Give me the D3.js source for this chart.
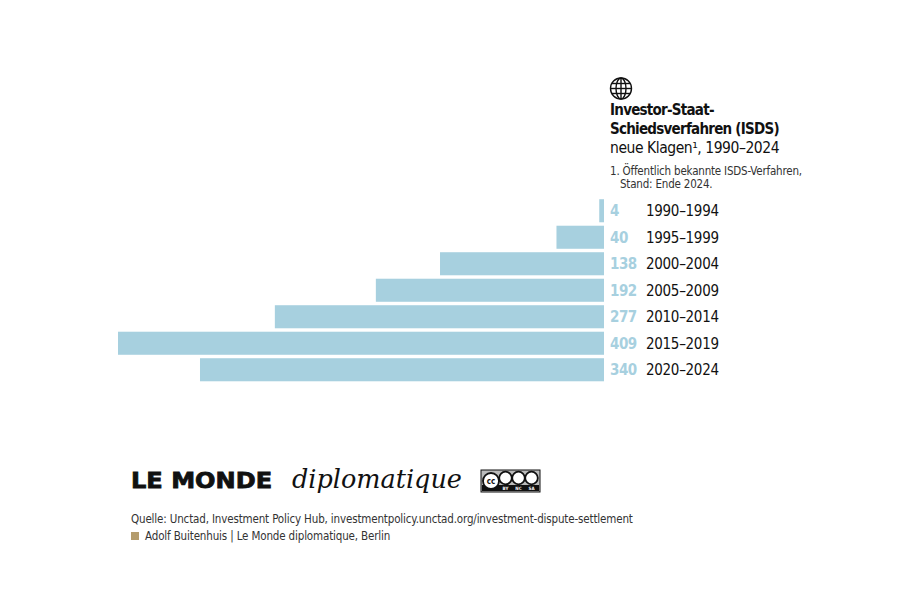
<!DOCTYPE html>
<html>
<head>
<meta charset="utf-8">
<script src="https://cdn.jsdelivr.net/npm/d3@7"></script>
<style>
  body { margin: 0; background: #fff; }
  text { font-family: "DejaVu Sans Condensed", "DejaVu Sans", sans-serif; }
</style>
</head>
<body>
<div id="chart"></div>
<script>
// data
var periods = ["1990–1994", "1995–1999", "2000–2004", "2005–2009", "2010–2014", "2015–2019", "2020–2024"];
var cases = [4, 40, 138, 192, 277, 409, 340];

var W = 923, H = 602;
var barRight = 604;

var svg = d3.select("#chart")
  .append("svg")
  .attr("width", W)
  .attr("height", H);

// bars grow leftwards from barRight
var x = d3.scaleLinear()
  .domain([0, 409])
  .range([0, 486]);

var y = d3.scaleBand()
  .domain(periods)
  .range([197.5, 383])
  .paddingInner(0.13)
  .paddingOuter(0.065);

var rows = svg.append("g")
  .selectAll("g")
  .data(periods)
  .enter()
  .append("g");

rows.append("rect")
  .attr("x", function (d, i) { return barRight - x(cases[i]); })
  .attr("y", function (d) { return y(d); })
  .attr("width", function (d, i) { return x(cases[i]); })
  .attr("height", y.bandwidth())
  .attr("fill", "#a7d0df");

rows.append("text")
  .attr("x", 610)
  .attr("y", function (d) { return y(d) + y.bandwidth() / 2 + 5.5; })
  .attr("font-size", 15)
  .attr("font-weight", "bold")
  .attr("letter-spacing", -0.5)
  .attr("fill", "#a7d0df")
  .text(function (d, i) { return cases[i]; });

rows.append("text")
  .attr("x", 646)
  .attr("y", function (d) { return y(d) + y.bandwidth() / 2 + 5.5; })
  .attr("font-size", 15)
  .attr("letter-spacing", -0.3)
  .attr("fill", "#111")
  .text(function (d) { return d; });

// globe icon
var globe = svg.append("g")
  .attr("transform", "translate(621,88.5)")
  .attr("fill", "none")
  .attr("stroke", "#111")
  .attr("stroke-width", 1.4);
globe.append("circle").attr("r", 10.5);
globe.append("ellipse").attr("rx", 5).attr("ry", 10.5);
globe.append("line").attr("x1", 0).attr("x2", 0).attr("y1", -10.5).attr("y2", 10.5);
globe.append("line").attr("x1", -10.5).attr("x2", 10.5).attr("y1", 0).attr("y2", 0);
globe.append("line").attr("x1", -9.2).attr("x2", 9.2).attr("y1", -5).attr("y2", -5);
globe.append("line").attr("x1", -9.2).attr("x2", 9.2).attr("y1", 5).attr("y2", 5);

// title block
var title = svg.append("g").attr("fill", "#111");
title.append("text").attr("x", 610).attr("y", 114.5)
  .attr("font-size", 15).attr("font-weight", "bold").attr("letter-spacing", -0.75).text("Investor-Staat-");
title.append("text").attr("x", 610).attr("y", 133.5)
  .attr("font-size", 15).attr("font-weight", "bold").attr("letter-spacing", -0.75).text("Schiedsverfahren (ISDS)");
title.append("text").attr("x", 610).attr("y", 153)
  .attr("font-size", 15.5).attr("letter-spacing", -0.45).text("neue Klagen¹, 1990–2024");
title.append("text").attr("x", 610).attr("y", 175)
  .attr("font-size", 11.5).attr("letter-spacing", -0.2).attr("fill", "#333").text("1. Öffentlich bekannte ISDS-Verfahren,");
title.append("text").attr("x", 620).attr("y", 188)
  .attr("font-size", 11.5).attr("letter-spacing", -0.2).attr("fill", "#333").text("Stand: Ende 2024.");

// masthead
svg.append("text")
  .attr("transform", "translate(131,488) scale(1.12,1)")
  .style("font-family", "'DejaVu Sans', sans-serif")
  .attr("font-size", 21.5).attr("font-weight", "bold")
  .attr("fill", "#111")
  .attr("stroke", "#111").attr("stroke-width", 0.8)
  .text("LE MONDE");
svg.append("text")
  .attr("x", 292).attr("y", 488)
  .style("font-family", "'DejaVu Serif', serif")
  .attr("font-size", 25.5).attr("font-style", "italic")
  .attr("fill", "#111")
  .text("diplomatique");

// CC BY-NC-SA badge
var cc = svg.append("g").attr("transform", "translate(481,470)");
cc.append("rect").attr("width", 59).attr("height", 22).attr("fill", "#bbb").attr("stroke", "#111").attr("stroke-width", 1);
cc.append("rect").attr("x", 1).attr("y", 15).attr("width", 57).attr("height", 6).attr("fill", "#111");
[10, 24.5, 37.5, 50.5].forEach(function (cx, i) {
  cc.append("circle").attr("cx", cx).attr("cy", i === 0 ? 11 : 8).attr("r", i === 0 ? 8 : 6.3)
    .attr("fill", "#fff").attr("stroke", "#111").attr("stroke-width", 1.8);
});
cc.append("text").attr("x", 10).attr("y", 14).attr("text-anchor", "middle")
  .attr("font-size", 8).attr("font-weight", "bold").attr("fill", "#111").text("cc");
["BY", "NC", "SA"].forEach(function (t, i) {
  cc.append("text").attr("x", [24.5, 37.5, 50.5][i]).attr("y", 20.3).attr("text-anchor", "middle")
    .attr("font-size", 4.5).attr("font-weight", "bold").attr("fill", "#fff").text(t);
});

// source and credits
svg.append("text")
  .attr("x", 131).attr("y", 523)
  .attr("font-size", 11.5).attr("letter-spacing", -0.15).attr("fill", "#333")
  .text("Quelle: Unctad, Investment Policy Hub, investmentpolicy.unctad.org/investment-dispute-settlement");
svg.append("rect")
  .attr("x", 131).attr("y", 532).attr("width", 8).attr("height", 8)
  .attr("fill", "#b49c6d");
svg.append("text")
  .attr("x", 145).attr("y", 540)
  .attr("font-size", 11.5).attr("letter-spacing", -0.15).attr("fill", "#333")
  .text("Adolf Buitenhuis | Le Monde diplomatique, Berlin");
</script>
</body>
</html>
